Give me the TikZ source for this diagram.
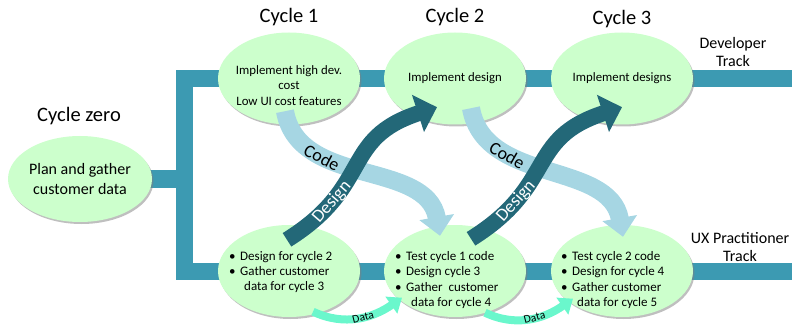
\documentclass[tikz,border=0pt]{standalone}
\usepackage{fontspec}
\setmainfont{Carlito}
\usetikzlibrary{positioning}
\usetikzlibrary{shapes}
\usetikzlibrary{backgrounds}
\usetikzlibrary{shadows}
\usetikzlibrary{arrows.meta}
\definecolor{trackblue}{HTML}{3C9AB2}
\definecolor{cyclegreen}{HTML}{CCFFCC}
\definecolor{codeblue}{HTML}{A6D6E3}
\definecolor{designteal}{HTML}{236878}
\definecolor{dataaqua}{HTML}{6AF7CC}
\newcommand{\bitem}[1]{\makebox[11pt][l]{\textbullet}#1}

\begin{document}
\begin{tikzpicture}[
x=1pt, y=1pt,
cyc/.style={draw=none, fill=cyclegreen, shape=ellipse, inner sep=0pt, minimum width=142pt, minimum height=92pt,
  drop shadow={shadow xshift=1.5pt, shadow yshift=-2pt, fill=black!50, opacity=0.5}},
track/.style={draw=trackblue, line width=17pt, line join=miter},
cyctitle/.style={anchor=base, font=\fontsize{20.5}{24}\selectfont},
tracklabel/.style={align=center, font=\fontsize{16}{18.5}\selectfont},
ctext/.style={align=center, font=\fontsize{12.8}{15.4}\selectfont, inner sep=0pt},
ulist/.style={align=left, anchor=west, font=\fontsize{13}{15.3}\selectfont, inner sep=0pt},
codearr/.style={draw=codeblue, line width=18pt, -{Triangle[length=19pt, width=34pt]}},
designarr/.style={draw=designteal, line width=16pt, -{Triangle[length=20pt, width=38pt]}},
dataarr/.style={draw=dataaqua, line width=8pt, -{Triangle[length=13pt, width=20pt]}},
arrlabel/.style={sloped, font=\fontsize{18}{20}\selectfont}
]
\useasboundingbox (0,0) rectangle (792,327);

\node[cyc, minimum width=144pt, minimum height=86pt] (c0) at (80,148) {};
\node[cyc] (t1) at (289,248.5) {};
\node[cyc] (t2) at (455,248.5) {};
\node[cyc] (t3) at (622,248.5) {};
\node[cyc] (u1) at (289,56) {};
\node[cyc] (u2) at (455,56) {};
\node[cyc] (u3) at (622,56) {};

\begin{scope}[on background layer]
\coordinate (split) at (184,150);
\coordinate (devend) at (792,248.5);
\coordinate (uxend) at (792,56);
\draw[track] (c0.center) -- (c0.center -| split);
\draw[track] (t1.center) -- (t1.center -| split) -- (u1.center -| split) -- (u1.center);
\draw[track] (t1.center) -- (t2.center) -- (t3.center) -- (devend);
\draw[track] (u1.center) -- (u2.center) -- (u3.center) -- (uxend);
\end{scope}

\node[cyctitle] (ttl0) at (79,205) {Cycle zero};
\node[cyctitle] (ttl1) at (289,304) {Cycle 1};
\node[cyctitle] (ttl2) at (455,304) {Cycle 2};
\node[cyctitle] (ttl3) at (622,302) {Cycle 3};
\node[tracklabel] (devlbl) at (733,275) {Developer\\Track};
\node[tracklabel] (uxlbl) at (740,80) {UX Practitioner\\Track};

\node[ctext, font=\fontsize{16}{20}\selectfont] (c0txt) at (c0) {Plan and gather\\customer data};
\node[ctext] (t1txt) at ([yshift=-7pt]t1.center) {Implement high dev.\\cost\\Low UI cost features};
\node[ctext] (t2txt) at (t2) {Implement design};
\node[ctext] (t3txt) at (t3) {Implement designs};
\node[ulist] (u1txt) at (229,55) {\bitem{Design for cycle 2}\\\bitem{Gather customer}\\\hspace*{15pt}data for cycle 3};
\node[ulist] (u2txt) at (395,47) {\bitem{Test cycle 1 code}\\\bitem{Design cycle 3}\\\bitem{Gather~ customer}\\\hspace*{16pt}data for cycle 4};
\node[ulist] (u3txt) at (561,47) {\bitem{Test cycle 2 code}\\\bitem{Design for cycle 4}\\\bitem{Gather customer}\\\hspace*{16pt}data for cycle 5};

\draw[codearr] ([xshift=-4pt,yshift=13.5pt]t1.south) to[out=-80, in=100] node[arrlabel, pos=0.3] {Code} ([xshift=-15pt,yshift=-11pt]u2.north);
\draw[codearr] ([xshift=16pt,yshift=16.5pt]t2.south) to[out=-80, in=100] node[arrlabel, pos=0.3] {Code} ([xshift=1pt,yshift=-12pt]u3.north);
\draw[designarr] ([xshift=-2pt,yshift=-15pt]u1.north) to[out=32, in=198, looseness=1.3] node[arrlabel, pos=0.24, text=white] {Design} ([xshift=-18pt,yshift=17.5pt]t2.south);
\draw[designarr] ([xshift=16pt,yshift=-14pt]u2.north) to[out=32, in=198, looseness=1.3] node[arrlabel, pos=0.24, text=white] {Design} ([xshift=0pt,yshift=17.5pt]t3.south);
\draw[dataarr] ([xshift=24pt,yshift=5.5pt]u1.south) to[out=-25, in=215] node[sloped, pos=0.55, font=\fontsize{11.5}{13}\selectfont] {Data} ([xshift=-53pt,yshift=19.5pt]u2.south);
\draw[dataarr] ([xshift=30pt,yshift=4.5pt]u2.south) to[out=-25, in=215] node[sloped, pos=0.55, font=\fontsize{11.5}{13}\selectfont] {Data} ([xshift=-49pt,yshift=18.5pt]u3.south);
\end{tikzpicture}
\end{document}
